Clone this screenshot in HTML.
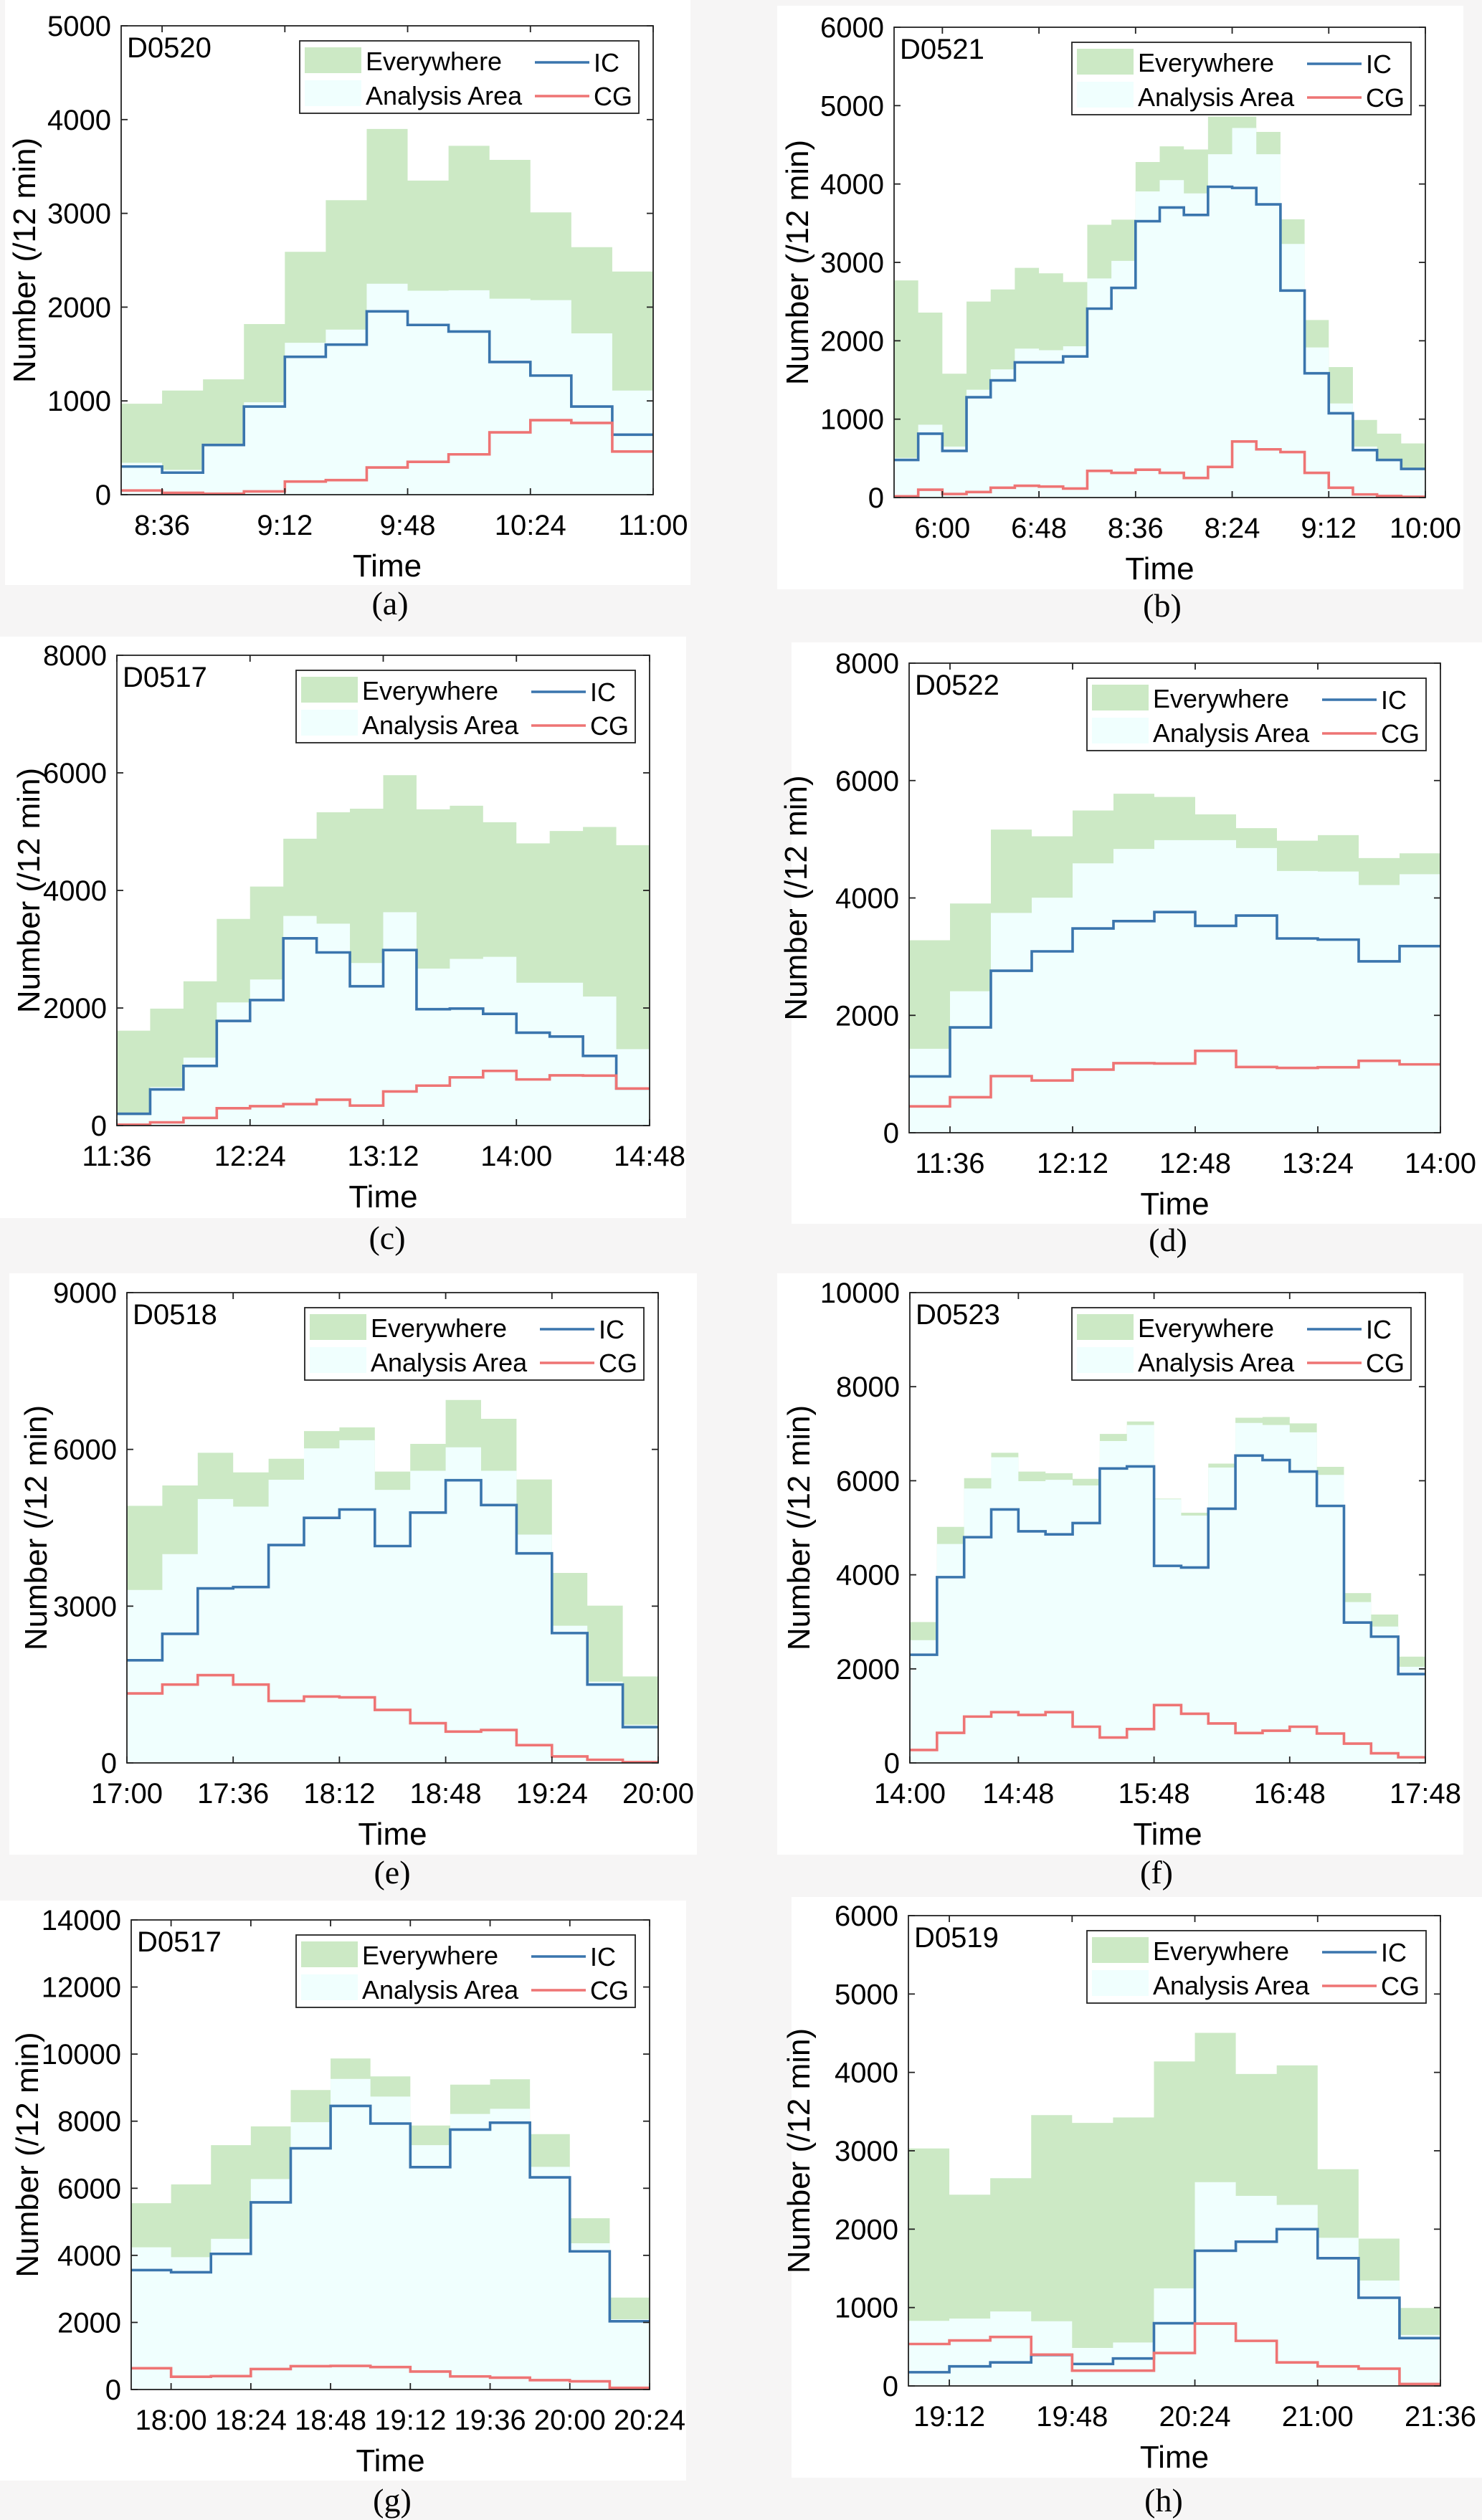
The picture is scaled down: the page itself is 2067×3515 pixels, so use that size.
<!DOCTYPE html>
<html><head><meta charset="utf-8"><style>
html,body{margin:0;padding:0;background:#f6f5f5;}
svg{display:block;}
text{font-family:"Liberation Sans",Arial,sans-serif;fill:#000;}
.cap{font-family:"Liberation Serif","Times New Roman",serif;}
</style></head><body>
<svg id="fig" width="2067" height="3515" viewBox="0 0 2067 3515" xmlns="http://www.w3.org/2000/svg"></svg>
<script>
// ---- data (a) D0520
const everyA=[970,1110,1230,1820,2590,3140,3900,3350,3720,3570,3010,2640,2380];
const areaA=[340,265,535,985,1620,1760,2250,2175,2180,2090,2075,1720,1110];
const icA=[300,235,530,940,1470,1600,1955,1810,1740,1415,1270,940,640];
const cgA=[45,20,10,35,140,155,290,350,430,665,795,765,460];
const xTicksA=["8:36","9:12","9:48","10:24","11:00"];
const yTicksA=[0,1000,2000,3000,4000,5000];
// ---- data (b) D0521
const everyB=[2770,2360,1580,2500,2655,2930,2860,2750,3480,3545,4280,4480,4440,4860,4860,4665,3550,2265,1665,990,815,690];
const areaB=[505,930,650,1375,1635,1900,1880,1930,2795,3020,3905,4050,3880,4380,4715,4380,3235,1915,1200,650,495,380];
const icB=[480,815,595,1280,1495,1725,1725,1800,2410,2675,3525,3700,3605,3965,3950,3740,2640,1585,1075,605,480,365];
const cgB=[15,100,45,70,125,150,140,115,340,315,355,315,250,390,715,615,580,315,125,40,20,10];
const xTicksB=["6:00","6:48","8:36","8:24","9:12","10:00"];
const yTicksB=[0,1000,2000,3000,4000,5000,6000];
// ---- data (c) D0517
const everyC=[1615,1990,2455,3515,4065,4880,5330,5390,5960,5380,5440,5160,4800,5010,5080,4770];
const areaC=[180,655,1155,2095,2485,3565,3435,2765,3630,2670,2835,2870,2430,2430,2195,1300];
const icC=[200,615,1015,1780,2135,3185,2945,2370,2985,1980,1990,1900,1580,1515,1185,630];
const cgC=[15,55,130,295,330,365,440,340,580,680,820,930,785,855,850,630];
const xTicksC=["11:36","12:24","13:12","14:00","14:48"];
const yTicksC=[0,2000,4000,6000,8000];
// ---- data (d) D0522
const everyD=[3280,3905,5165,5050,5490,5775,5720,5425,5190,4975,5070,4680,4760];
const areaD=[1430,2410,3745,4005,4590,4835,4985,4985,4850,4460,4450,4220,4405];
const icD=[960,1795,2760,3090,3480,3605,3760,3525,3700,3310,3290,2920,3180];
const cgD=[450,605,965,890,1075,1185,1180,1395,1120,1105,1115,1225,1165];
const xTicksD=["11:36","12:12","12:48","13:24","14:00"];
const yTicksD=[0,2000,4000,6000,8000];
// ---- data (e) D0518
const everyE=[4920,5310,5935,5560,5820,6350,6420,5575,6105,6945,6585,5425,3635,3010,1655];
const areaE=[3310,3995,5050,4905,5420,6020,6175,5225,5590,6040,5590,4370,2625,1555,730];
const icE=[1965,2470,3340,3365,4170,4690,4850,4150,4790,5410,4935,4010,2485,1500,685];
const cgE=[1330,1500,1680,1500,1185,1270,1255,1015,760,600,630,340,125,60,15];
const xTicksE=["17:00","17:36","18:12","18:48","19:24","20:00"];
const yTicksE=[0,3000,6000,9000];
// ---- data (f) D0523
const everyF=[2995,5020,6055,6595,6195,6160,6040,6995,7260,5620,5320,6365,7340,7355,7220,6295,3610,3155,2260];
const areaF=[2610,4655,5835,6500,5990,6020,5900,6845,7185,5605,5260,6280,7230,7185,7030,6125,3420,2900,2045];
const icF=[2300,3950,4800,5390,4925,4860,5100,6260,6305,4190,4155,5405,6535,6440,6195,5465,2985,2685,1890];
const cgF=[275,640,985,1080,1020,1080,770,540,720,1230,1045,840,635,685,770,625,410,205,120];
const xTicksF=["14:00","14:48","15:48","16:48","17:48"];
const yTicksF=[0,2000,4000,6000,8000,10000];
// ---- data (g) D0517
const everyG=[5555,6115,7285,7845,8930,9870,9335,7870,9090,9250,7615,5105,2740];
const areaG=[4240,3945,4495,6275,7970,9260,8735,7285,8215,8370,6640,4360,2095];
const icG=[3560,3495,4045,5580,7190,8455,7930,6630,7750,7955,6325,4120,2035];
const cgG=[635,380,400,610,695,705,670,535,390,355,280,245,50];
const xTicksG=["18:00","18:24","18:48","19:12","19:36","20:00","20:24"];
const yTicksG=[0,2000,4000,6000,8000,10000,12000,14000];
// ---- data (h) D0519
const everyH=[3030,2440,2650,3455,3355,3425,4140,4505,3980,4090,2765,1880,995];
const areaH=[830,860,950,825,485,555,1245,2600,2425,2310,1890,1345,650];
const icH=[175,250,300,395,280,350,800,1725,1840,2000,1630,1125,610];
const cgH=[535,580,625,400,195,195,420,795,575,300,250,220,25];
const xTicksH=["19:12","19:48","20:24","21:00","21:36"];
const yTicksH=[0,1000,2000,3000,4000,5000,6000];

const NS="http://www.w3.org/2000/svg";
const svg=document.getElementById('fig');
function mk(tag,attrs,parent){const e=document.createElementNS(NS,tag);for(const k in attrs)e.setAttribute(k,attrs[k]);(parent||svg).appendChild(e);return e;}

const panels=[
 {id:'a',name:'D0520',every:everyA,area:areaA,ic:icA,cg:cgA,xt:xTicksA,xtIdx:[1,4,7,10,13],yt:yTicksA,L:169,R:911,T:36,B:690,bg:[7,0,963,816],cap:[544,842],yx:34},
 {id:'b',name:'D0521',every:everyB,area:areaB,ic:icB,cg:cgB,xt:xTicksB,xtIdx:[2,6,10,14,18,22],yt:yTicksB,L:1247,R:1988,T:38,B:694,bg:[1084,8,2041,822],cap:[1621,845],yx:1112},
 {id:'c',name:'D0517',every:everyC,area:areaC,ic:icC,cg:cgC,xt:xTicksC,xtIdx:[0,4,8,12,16],yt:yTicksC,L:163,R:906,T:914,B:1570,bg:[0,888,957,1699],cap:[540,1727],yx:40},
 {id:'d',name:'D0522',every:everyD,area:areaD,ic:icD,cg:cgD,xt:xTicksD,xtIdx:[1,4,7,10,13],yt:yTicksD,L:1268,R:2009,T:925,B:1580,bg:[1104,896,2067,1707],cap:[1629,1730],yx:1110},
 {id:'e',name:'D0518',every:everyE,area:areaE,ic:icE,cg:cgE,xt:xTicksE,xtIdx:[0,3,6,9,12,15],yt:yTicksE,L:177,R:918,T:1803,B:2459,bg:[13,1776,972,2587],cap:[547,2612],yx:50},
 {id:'f',name:'D0523',every:everyF,area:areaF,ic:icF,cg:cgF,xt:xTicksF,xtIdx:[0,4,9,14,19],yt:yTicksF,L:1269,R:1988,T:1803,B:2459,bg:[1084,1776,2041,2587],cap:[1613,2612],yx:1114},
 {id:'g',name:'D0517',every:everyG,area:areaG,ic:icG,cg:cgG,xt:xTicksG,xtIdx:[1,3,5,7,9,11,13],yt:yTicksG,L:183,R:906,T:2678,B:3333,bg:[0,2651,957,3460],cap:[547,3488],yx:38},
 {id:'h',name:'D0519',every:everyH,area:areaH,ic:icH,cg:cgH,xt:xTicksH,xtIdx:[1,4,7,10,13],yt:yTicksH,L:1267,R:2009,T:2672,B:3328,bg:[1104,2646,2067,3456],cap:[1623,3488],yx:1114}
];

panels.forEach(p=>{
  const n=p.every.length;
  const ymax=p.yt[p.yt.length-1];
  const sx=i=>p.L+(p.R-p.L)*i/n;
  const sy=v=>p.B-(p.B-p.T)*v/ymax;
  const g=mk('g',{});
  
  
  const bg=mk('rect',{x:p.bg[0],y:p.bg[1],width:p.bg[2]-p.bg[0],height:p.bg[3]-p.bg[1],fill:'#ffffff'},g);
  
  
  const cid='clip'+p.id;
  const cp=mk('clipPath',{id:cid},g);
  mk('rect',{x:p.L,y:p.T,width:p.R-p.L,height:p.B-p.T},cp);
  const plot=mk('g',{'clip-path':'url(#'+cid+')'},g);
  
  
  function areaPath(arr){let d='M'+sx(0)+','+sy(0);arr.forEach((v,i)=>{d+=' L'+sx(i)+','+sy(v)+' L'+sx(i+1)+','+sy(v);});return d+' L'+sx(n)+','+sy(0)+' Z';}
  function linePath(arr){let d='M'+sx(0)+','+sy(arr[0]);arr.forEach((v,i)=>{if(i>0)d+=' V'+sy(v);d+=' H'+sx(i+1);});return d;}
  const ae=mk('path',{d:areaPath(p.every),fill:'#cce9c5'},plot);
  
  
  const aa=mk('path',{d:areaPath(p.area),fill:'#f0fffe'},plot);
  
  
  const li=mk('path',{d:linePath(p.ic),fill:'none',stroke:'#3a75ad','stroke-width':3.6},plot);
  
  
  const lc=mk('path',{d:linePath(p.cg),fill:'none',stroke:'#ee7474','stroke-width':3.6},plot);
  
  
  const box=mk('rect',{x:p.L,y:p.T,width:p.R-p.L,height:p.B-p.T,fill:'none',stroke:'#222','stroke-width':1.8},g);
  
  
  p.yt.forEach(v=>{
    const y=sy(v);
    mk('line',{x1:p.L,x2:p.L+9,y1:y,y2:y,stroke:'#222','stroke-width':1.8},g);
    mk('line',{x1:p.R,x2:p.R-9,y1:y,y2:y,stroke:'#222','stroke-width':1.8},g);
    const t=mk('text',{x:p.L-14,y:y+14,'text-anchor':'end','font-size':40},g);
    t.textContent=v;
    
    
  });
  p.xtIdx.forEach((bi,k)=>{
    const x=sx(bi);
    mk('line',{x1:x,x2:x,y1:p.B,y2:p.B-9,stroke:'#222','stroke-width':1.8},g);
    mk('line',{x1:x,x2:x,y1:p.T,y2:p.T+9,stroke:'#222','stroke-width':1.8},g);
    const t=mk('text',{x:x,y:p.B+56,'text-anchor':'middle','font-size':40},g);
    t.textContent=p.xt[k];
    
    
  });
  const xl=mk('text',{x:(p.L+p.R)/2,y:p.B+114,'text-anchor':'middle','font-size':44},g);
  xl.textContent='Time';
  
  
  const ycx=p.yx+15, ycy=(p.T+p.B)/2;
  const yl=mk('text',{x:ycx,y:ycy,'text-anchor':'middle','font-size':44,transform:'rotate(-90 '+ycx+' '+ycy+')'},g);
  yl.textContent='Number (/12 min)';
  
  
  const dn=mk('text',{x:p.L+8,y:p.T+44,'font-size':40},g);
  dn.textContent=p.name;
  
  
  const lx=p.R-493, ly=p.T+21;
  const lg=mk('g',{},g);
  
  
  mk('rect',{x:lx,y:ly,width:473,height:101,fill:'#fff',stroke:'#222','stroke-width':1.8},lg);
  mk('rect',{x:lx+7,y:ly+9,width:79,height:36,fill:'#cce9c5'},lg);
  mk('rect',{x:lx+7,y:ly+55,width:79,height:36,fill:'#f0fffe'},lg);
  const t1=mk('text',{x:lx+92,y:ly+41,'font-size':36},lg);t1.textContent='Everywhere';
  
  
  const t2=mk('text',{x:lx+92,y:ly+89,'font-size':36},lg);t2.textContent='Analysis Area';
  
  
  mk('line',{x1:lx+328,x2:lx+404,y1:ly+30,y2:ly+30,stroke:'#3a75ad','stroke-width':3.6},lg);
  mk('line',{x1:lx+328,x2:lx+404,y1:ly+77,y2:ly+77,stroke:'#ee7474','stroke-width':3.6},lg);
  const t3=mk('text',{x:lx+410,y:ly+43,'font-size':36},lg);t3.textContent='IC';
  
  
  const t4=mk('text',{x:lx+410,y:ly+90,'font-size':36},lg);t4.textContent='CG';
  
  
  const cap=mk('text',{x:p.cap[0],y:p.cap[1]+15,'text-anchor':'middle','font-size':46,class:'cap'},svg);
  cap.textContent='('+p.id+')';
  
  
});
</script>
</body></html>
